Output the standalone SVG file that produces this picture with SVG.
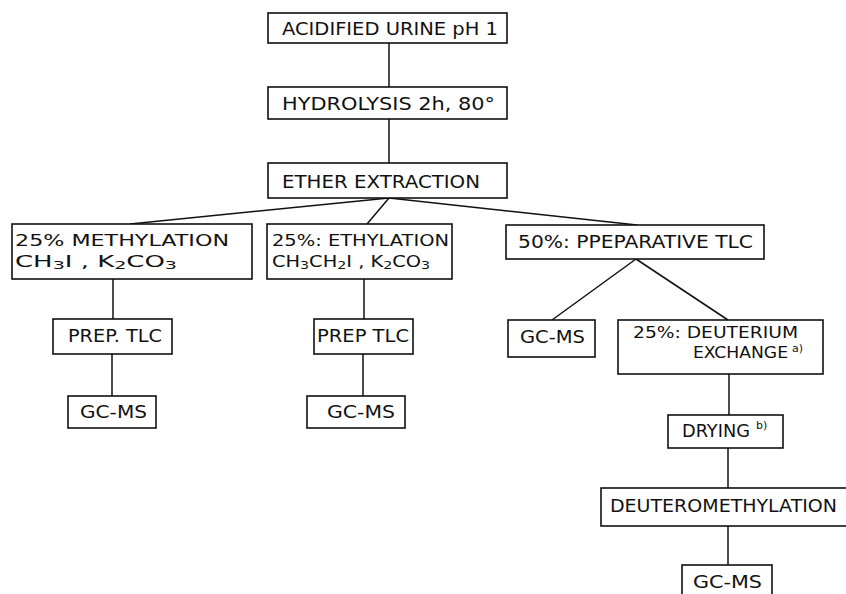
<svg xmlns="http://www.w3.org/2000/svg" width="846" height="594" viewBox="0 0 846 594">
<style>
rect{fill:#fff;stroke:#111;stroke-width:1.6}
line{stroke:#111;stroke-width:1.5}
text{font-family:"DejaVu Sans","Liberation Sans",sans-serif;font-size:17px;fill:#111}
.l1{font-size:16px}
.l2{font-size:15px}
.sub{font-size:11px}
.sup{font-size:11px}
</style>
<rect width="846" height="594" style="fill:#fff;stroke:none"/>
<g id="connectors">
<line x1="389" y1="43" x2="389" y2="87"/>
<line x1="389" y1="119" x2="389" y2="163"/>
<line x1="389" y1="198" x2="130" y2="224"/>
<line x1="389" y1="198" x2="367" y2="224"/>
<line x1="389" y1="198" x2="637" y2="225"/>
<line x1="113" y1="279" x2="113" y2="319"/>
<line x1="112" y1="354" x2="112" y2="396"/>
<line x1="364" y1="279" x2="364" y2="319"/>
<line x1="363" y1="354" x2="363" y2="396"/>
<line x1="636" y1="259" x2="552" y2="320"/>
<line x1="636" y1="259" x2="728" y2="320"/>
<line x1="729" y1="374" x2="729" y2="415"/>
<line x1="728" y1="448" x2="728" y2="488"/>
<line x1="728" y1="526" x2="728" y2="565"/>
</g>
<g id="n1"><rect x="268" y="13" width="239" height="30"/><text x="282" y="35" textLength="216" lengthAdjust="spacingAndGlyphs">ACIDIFIED URINE pH 1</text></g>
<g id="n2"><rect x="268" y="87" width="239" height="32"/><text x="282" y="110" textLength="213" lengthAdjust="spacingAndGlyphs">HYDROLYSIS 2h, 80°</text></g>
<g id="n3"><rect x="268" y="163" width="239" height="35"/><text x="282" y="188" textLength="198" lengthAdjust="spacingAndGlyphs">ETHER EXTRACTION</text></g>
<g id="n4"><rect x="12" y="224" width="240" height="55"/>
<text class="l1" x="15" y="246" textLength="214" lengthAdjust="spacingAndGlyphs">25% METHYLATION</text>
<text class="l2" x="15" y="267" textLength="162" lengthAdjust="spacingAndGlyphs">CH<tspan class="sub" dy="2">3</tspan><tspan dy="-2">I , K</tspan><tspan class="sub" dy="2">2</tspan><tspan dy="-2">CO</tspan><tspan class="sub" dy="2">3</tspan></text></g>
<g id="n5"><rect x="267" y="224" width="185" height="55"/>
<text class="l1" x="272" y="246" textLength="177" lengthAdjust="spacingAndGlyphs">25%: ETHYLATION</text>
<text class="l2" x="272" y="267" textLength="158" lengthAdjust="spacingAndGlyphs">CH<tspan class="sub" dy="2">3</tspan><tspan dy="-2">CH</tspan><tspan class="sub" dy="2">2</tspan><tspan dy="-2">I , K</tspan><tspan class="sub" dy="2">2</tspan><tspan dy="-2">CO</tspan><tspan class="sub" dy="2">3</tspan></text></g>
<g id="n6"><rect x="506" y="225" width="258" height="34"/><text x="518" y="248" textLength="235" lengthAdjust="spacingAndGlyphs">50%: PPEPARATIVE TLC</text></g>
<g id="n7"><rect x="53" y="319" width="119" height="35"/><text x="68" y="342" textLength="94" lengthAdjust="spacingAndGlyphs">PREP. TLC</text></g>
<g id="n8"><rect x="314" y="319" width="99" height="35"/><text x="317" y="342" textLength="92" lengthAdjust="spacingAndGlyphs">PREP TLC</text></g>
<g id="n9"><rect x="68" y="396" width="88" height="32"/><text x="80" y="418" textLength="67" lengthAdjust="spacingAndGlyphs">GC-MS</text></g>
<g id="n10"><rect x="307" y="396" width="98" height="32"/><text x="327" y="418" textLength="68" lengthAdjust="spacingAndGlyphs">GC-MS</text></g>
<g id="n11"><rect x="508" y="320" width="87" height="37"/><text x="520" y="343" textLength="65" lengthAdjust="spacingAndGlyphs">GC-MS</text></g>
<g id="n12"><rect x="618" y="320" width="205" height="54"/>
<text class="l1" x="633" y="338" textLength="165" lengthAdjust="spacingAndGlyphs">25%: DEUTERIUM</text>
<text class="l1" x="693" y="358" textLength="95" lengthAdjust="spacingAndGlyphs">EXCHANGE</text>
<text x="792" y="352" class="sup">a)</text></g>
<g id="n13"><rect x="668" y="415" width="115" height="33"/>
<text x="682" y="437" textLength="68" lengthAdjust="spacingAndGlyphs">DRYING</text>
<text x="756" y="429" class="sup">b)</text></g>
<g id="n14"><rect x="601" y="488" width="260" height="38"/><text x="610" y="512" textLength="227" lengthAdjust="spacingAndGlyphs">DEUTEROMETHYLATION</text></g>
<g id="n15"><rect x="682" y="565" width="90" height="40"/><text x="693" y="588" textLength="69" lengthAdjust="spacingAndGlyphs">GC-MS</text></g>
</svg>
